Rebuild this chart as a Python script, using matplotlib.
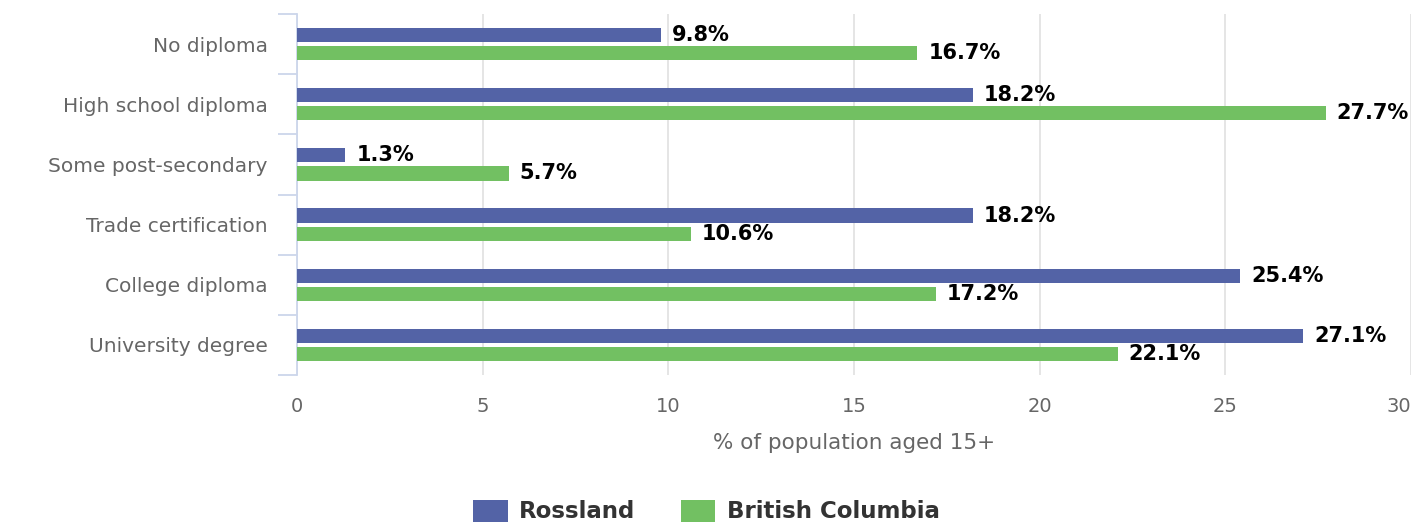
import matplotlib
matplotlib.use("Agg")
import matplotlib.pyplot as plt
import numpy as np

categories = ["No diploma", "High school diploma", "Some post-secondary",
              "Trade certification", "College diploma", "University degree"]
rossland = [9.8, 18.2, 1.3, 18.2, 25.4, 27.1]
bc = [16.7, 27.7, 5.7, 10.6, 17.2, 22.1]
series_names = ["Rossland", "British Columbia"]
x_ticks = [0, 5, 10, 15, 20, 25, 30]

c_ross = "#5363a6"
c_bc = "#72c062"

fig = plt.figure(figsize=(14.13, 5.23), dpi=100)
ax = fig.add_axes([297 / 1413, 1 - 375 / 523, (1411 - 297) / 1413, (375 - 14) / 523])

y = np.arange(len(categories))
h = 0.235
b1 = ax.barh(y - 0.15, rossland, height=h, color=c_ross, label=series_names[0], zorder=3)
b2 = ax.barh(y + 0.15, bc, height=h, color=c_bc, label=series_names[1], zorder=3)

for bars, vals in [(b1, rossland), (b2, bc)]:
    for bar, v in zip(bars, vals):
        ax.text(v + 0.3, bar.get_y() + bar.get_height() / 2, f"{v}%",
                va="center", ha="left", fontsize=15, fontweight="bold",
                color="black", zorder=4)

ax.set_xlim(0, 30)
ax.set_ylim(len(categories) - 0.5, -0.5)
ax.set_xticks(x_ticks)
ax.set_xticklabels([str(t) for t in x_ticks], fontsize=14, color="#666666")
ax.get_xticklabels()[-1].set_ha("right")
ax.tick_params(axis="x", length=0, pad=16)
ax.set_yticks(y)
ax.set_yticklabels(categories, fontsize=14.5, color="#666666")
ax.tick_params(axis="y", which="major", length=0, pad=21)
ax.set_yticks(np.arange(-0.5, len(categories), 1), minor=True)
ax.tick_params(axis="y", which="minor", length=14, width=1.3, color="#ccd6eb")

ax.grid(axis="x", color="#e0e0e0", linewidth=1.2, zorder=0)
for s in ["top", "right", "bottom"]:
    ax.spines[s].set_visible(False)
ax.spines["left"].set_color("#ccd6eb")
ax.spines["left"].set_linewidth(1.3)

ax.set_xlabel("% of population aged 15+", fontsize=15.5, color="#666666", labelpad=12)

leg = fig.legend(loc="lower center", bbox_to_anchor=(0.5, -0.04), ncol=2, frameon=False,
                 prop={"size": 16.5, "weight": "bold"}, handlelength=1.5, handleheight=1.1,
                 columnspacing=2.0, handletextpad=0.5)
for t in leg.get_texts():
    t.set_color("#333333")

fig.savefig("out.png", dpi=100)
